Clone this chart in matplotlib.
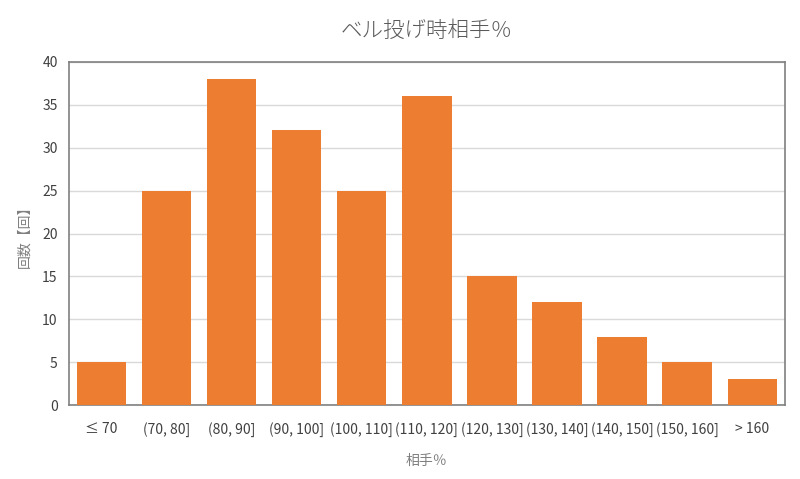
import matplotlib
matplotlib.use("Agg")
import matplotlib.pyplot as plt

plt.rcParams['font.family'] = ['Noto Sans CJK JP', 'DejaVu Sans']

categories = ["≤ 70", "(70, 80]", "(80, 90]", "(90, 100]", "(100, 110]", "(110, 120]",
              "(120, 130]", "(130, 140]", "(140, 150]", "(150, 160]", "> 160"]
counts = [5, 25, 38, 32, 25, 36, 15, 12, 8, 5, 3]

fig = plt.figure(figsize=(8, 4.79), dpi=100)
ax = fig.add_axes([0.086, 0.154, 0.895, 0.717])

x = range(len(categories))
ax.bar(x, counts, width=0.76, color="#ED7D31", zorder=3)
ax.set_xlim(-0.5, len(categories) - 0.5)
ax.set_ylim(0, 40)
ax.set_yticks(range(0, 41, 5))
ax.set_xticks(list(x))
ax.set_xticklabels(categories)
ax.grid(axis='y', color="#D9D9D9", linewidth=1, zorder=0)
for s in ax.spines.values():
    s.set_color("#808080")
    s.set_linewidth(1.2)
ax.tick_params(axis='both', length=0, labelsize=10, colors="#404040", pad=8)
ax.tick_params(axis='x', pad=12)
ax.set_title("ベル投げ時相手％", fontsize=15.5, color="#595959", pad=18, fontweight='light')
ax.set_xlabel("相手％", fontsize=10, color="#808080", labelpad=12)
ax.set_ylabel("回数【回】", fontsize=10, color="#808080", labelpad=8)

fig.savefig("out.png", dpi=100)
